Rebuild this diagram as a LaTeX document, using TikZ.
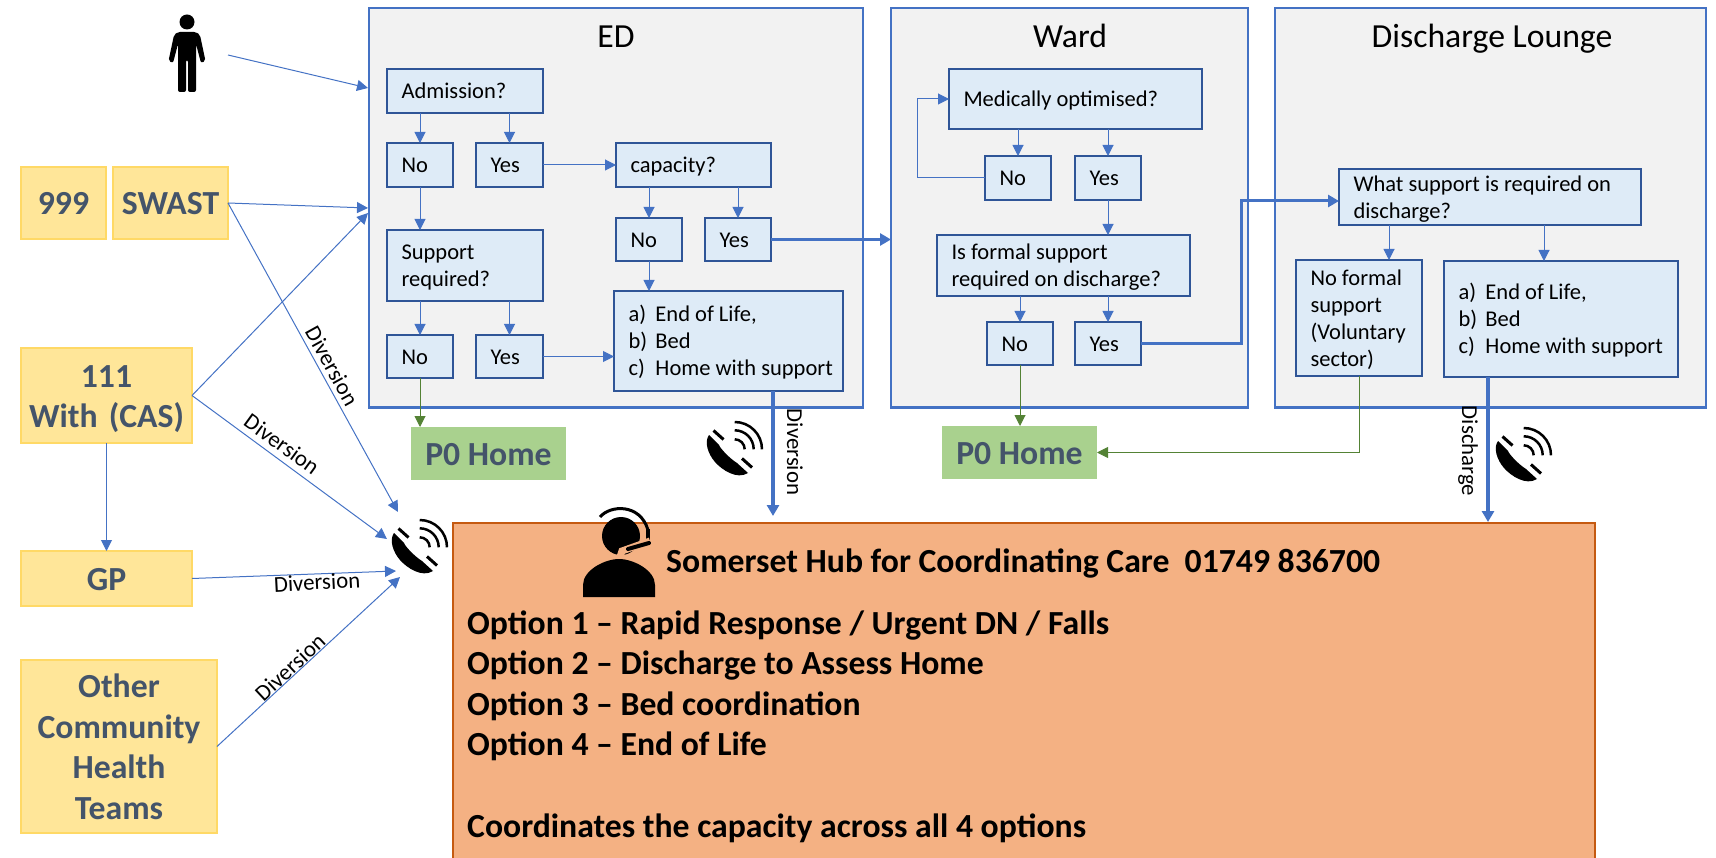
\documentclass[tikz,border=0pt]{standalone}
\usepackage{fontspec}
\setmainfont{Carlito}
\usetikzlibrary{positioning}
\usetikzlibrary{arrows.meta}
\definecolor{flowblue}{HTML}{4472C4}
\definecolor{boxblue}{HTML}{2F5597}
\definecolor{boxfill}{HTML}{DEEBF7}
\definecolor{flowgreen}{HTML}{548235}
\definecolor{homefill}{HTML}{A9D18E}
\definecolor{slate}{HTML}{44546A}
\definecolor{srcfill}{HTML}{FFE699}
\definecolor{srcline}{HTML}{FFD966}
\definecolor{hubfill}{HTML}{F4B183}
\definecolor{hubline}{HTML}{C55A11}
\tikzset{
    panelbox/.style 2 args = {anchor=north west,draw=flowblue,line width=2pt,fill=black!5,minimum width=#1pt,minimum height=#2pt,outer sep=0pt,inner sep=0pt},
    paneltitle/.style = {anchor=base,inner sep=0pt,font=\fontsize{33.7}{40}\selectfont},
    qbox/.style 2 args = {anchor=north west,draw=boxblue,line width=1.6pt,fill=boxfill,minimum width=#1pt,minimum height=#2pt,text width=#1pt-29pt,inner xsep=14.5pt,inner ysep=0pt,outer sep=0pt,align=flush left,font=\fontsize{22.5}{27}\selectfont,execute at begin node={\rule{0pt}{22pt}},execute at end node={\rule[-6pt]{0pt}{6pt}}},
    srcbox/.style 2 args = {anchor=north west,draw=srcline,line width=1.5pt,fill=srcfill,minimum width=#1pt,minimum height=#2pt,text width=#1pt,inner sep=0pt,outer sep=0pt,align=center,text=slate,font=\fontsize{33.7}{40.5}\selectfont\bfseries,execute at begin node={\rule{0pt}{33pt}},execute at end node={\rule[-9pt]{0pt}{9pt}}},
    homebox/.style = {anchor=north west,fill=homefill,minimum width=155pt,minimum height=53pt,inner sep=0pt,outer sep=0pt,text=slate,font=\fontsize{33.7}{40}\selectfont\bfseries,execute at begin node={\rule{0pt}{33pt}},execute at end node={\rule[-9pt]{0pt}{9pt}}},
    hubbox/.style = {anchor=north west,draw=hubline,line width=2pt,fill=hubfill,inner sep=0pt,outer sep=0pt},
    hubtext/.style = {anchor=base west,inner sep=0pt,align=left,font=\fontsize{33.7}{40.6}\selectfont\bfseries},
    divlabel/.style = {inner sep=0pt,font=\fontsize{22.8}{26}\selectfont},
    flow/.style = {-{Triangle[length=11pt,width=11pt]},line width=1pt,flowblue},
    flowb/.style = {-{Triangle[length=11pt,width=12pt]},line width=3pt,flowblue},
    flowc/.style = {-{Triangle[length=11pt,width=12pt]},line width=4pt,flowblue},
    flowg/.style = {-{Triangle[length=11pt,width=11pt]},line width=1pt,flowgreen},
    phoneicon/.pic = {
        \fill[black] (2,15) -- (12,25) .. controls (13,28) and (22,38) .. (30,43) -- (41,53) .. controls (30,60) and (15,50) .. (8,42) .. controls (1,34) and (-3,22) .. (2,15) -- cycle;
        \draw[black,line width=3pt] (6.5,10.5) -- (16.5,19.5);
        \draw[black,line width=3pt] (35,38.5) -- (45,47.5);
        \foreach \r in {27.3,19,10}
            \draw[black,line width=2.5pt] (27.7,29.3-\r) to[out=0,in=90] (27.7+\r,29.3);
    }
}

\begin{document}
\begin{tikzpicture}[x=1pt,y=-1pt]
  \path[use as bounding box,clip] (0,0) rectangle (1716,858);

  % panels
  \node (edpanel) at (368.5,8.5) [panelbox={494.5}{399}] {};
  \node (wardpanel) at (891,8.5) [panelbox={357}{399}] {};
  \node (dischpanel) at (1275,8.5) [panelbox={431}{399}] {};
  \node (edtitle) at (616,48) [paneltitle] {ED};
  \node (wardtitle) at (1070,48) [paneltitle] {Ward};
  \node (dischtitle) at (1492,48) [paneltitle] {Discharge Lounge};

  % hub
  \node (hub) at (453,523) [hubbox,minimum width=1142pt,minimum height=360pt] {};
  \node (hubname) at (666,572) [hubtext] {Somerset Hub for Coordinating Care\ \ 01749 836700};
  \node (huboptions) at (467,837) [hubtext] {Option 1 -- Rapid Response / Urgent DN / Falls\\
    Option 2 -- Discharge to Assess Home\\
    Option 3 -- Bed coordination\\
    Option 4 -- End of Life\\[40.6pt]
    Coordinates the capacity across all 4 options};

  % sources
  \node (nine) at (21,167) [srcbox={85}{72}] {999};
  \node (swast) at (113,167) [srcbox={115}{72}] {SWAST};
  \node (oneoneone) at (21,348) [srcbox={171}{95}] {111\\With (CAS)};
  \node (gp) at (21,551) [srcbox={171}{55}] {GP};
  \node (other) at (21,660) [srcbox={196}{173}] {Other\\Community\\Health\\Teams};

  % ED
  \node (adm) at (387,69) [qbox={156}{44}] {Admission?};
  \node (edno) at (387,143) [qbox={66}{44}] {No};
  \node (edyes) at (476,143) [qbox={67}{44}] {Yes};
  \node (suppreq) at (387,230) [qbox={156}{71}] {Support\\required?};
  \node (suppno) at (387,335) [qbox={66}{43}] {No};
  \node (suppyes) at (476,335) [qbox={67}{43}] {Yes};
  \node (capac) at (616,143) [qbox={155}{44}] {capacity?};
  \node (capno) at (616,218) [qbox={66}{43}] {No};
  \node (capyes) at (705,218) [qbox={66}{43}] {Yes};
  \node (edopts) at (614,291) [qbox={229}{100}] {\makebox[27pt][l]{a)}End of Life,\\\makebox[27pt][l]{b)}Bed\\\mbox{\makebox[27pt][l]{c)}Home with support}};
  \node (homea) at (411,427) [homebox] {P0 Home};

  % Ward
  \node (medopt) at (949,69) [qbox={253}{60}] {Medically optimised?};
  \node (medno) at (985,156) [qbox={66}{44}] {No};
  \node (medyes) at (1075,156) [qbox={66}{44}] {Yes};
  \node (formal) at (937,235) [qbox={253}{61}] {Is formal support\\required on discharge?};
  \node (formno) at (987,322) [qbox={66}{43}] {No};
  \node (formyes) at (1075,322) [qbox={66}{43}] {Yes};
  \node (homeb) at (942,426) [homebox] {P0 Home};

  % Discharge Lounge
  \node (whatsupp) at (1339,169) [qbox={302}{56}] {What support is required on\\discharge?};
  \node (nosupp) at (1296,260) [qbox={126}{116}] {No formal\\support\\(Voluntary\\sector)};
  \node (dischopts) at (1444,261) [qbox={234}{116}] {\makebox[27pt][l]{a)}End of Life,\\\makebox[27pt][l]{b)}Bed\\\mbox{\makebox[27pt][l]{c)}Home with support}};

  % free ends
  \coordinate (person) at (228,55);
  \coordinate (edinA) at (368,88);
  \coordinate (edinB) at (368,208);
  \coordinate (edinC) at (368,213);
  \coordinate (phoneA) at (398,512);
  \coordinate (phoneB) at (387,539);
  \coordinate (phoneC) at (396,571);
  \coordinate (phoneD) at (400,577);

  % into ED and to the phone
  \draw[flow] (person) -- (edinA);
  \draw[flow] (swast.east) -- (edinB);
  \draw[flow] (oneoneone.east) -- (edinC);
  \draw[flow] (swast.east) -- (phoneA);
  \draw[flow] (oneoneone.east) -- (phoneB);
  \draw[flow] (gp.east) -- (phoneC);
  \draw[flow] (other.east) -- (phoneD);
  \draw[flow] (oneoneone.south) -- (gp.north);

  \draw[flow] (edno |- adm.south) -- (edno.north);
  \draw[flow] (edyes |- adm.south) -- (edyes.north);
  \draw[flow] (edno.south) -- (edno |- suppreq.north);
  \draw[flow] (suppno |- suppreq.south) -- (suppno.north);
  \draw[flow] (suppyes |- suppreq.south) -- (suppyes.north);
  \draw[flow] (edyes.east) -- (capac.west);
  \draw[flow] (capno |- capac.south) -- (capno.north);
  \draw[flow] (capyes |- capac.south) -- (capyes.north);
  \draw[flow] (capno.south) -- (capno |- edopts.north);
  \draw[flow] (suppyes.east) -- (suppyes.east -| edopts.west);
  \draw[flowg] (suppno.south) -- (suppno |- homea.north);

  \draw[flow] (medno |- medopt.south) -- (medno.north);
  \draw[flow] (medyes |- medopt.south) -- (medyes.north);
  \draw[flow] (medno.west) -- ++(-68,0) |- (medopt.west);
  \draw[flow] (medyes.south) -- (medyes |- formal.north);
  \draw[flow] (formno |- formal.south) -- (formno.north);
  \draw[flow] (formyes |- formal.south) -- (formyes.north);
  \draw[flowg] (formno.south) -- (formno |- homeb.north);

  \draw[flow] ([xshift=30pt]nosupp.north |- whatsupp.south) -- ([xshift=30pt]nosupp.north);
  \draw[flow] ([xshift=-17pt]dischopts.north |- whatsupp.south) -- ([xshift=-17pt]dischopts.north);
  \draw[flowg] (nosupp.south) |- (homeb.east);

  \draw[flowb] (capyes.east) -- (wardpanel.west |- capyes.east);
  \draw[flowb] (formyes.east) -- ++(100,0) |- ([yshift=-4pt]whatsupp.west);
  \draw[flowc,shorten >=7pt] ([xshift=44.5pt]edopts.south) -- ([xshift=44.5pt]edopts.south |- hub.north);
  \draw[flowc,shorten >=1pt] ([xshift=-73pt]dischopts.south) -- ([xshift=-73pt]dischopts.south |- hub.north);

  % labels
  \node (divswast) at (332,366) [divlabel,rotate=-61] {Diversion};
  \node (divone) at (282,444) [divlabel,rotate=-36] {Diversion};
  \node (divgp) at (317,582) [divlabel,rotate=3] {Diversion};
  \node (divother) at (290,667) [divlabel,rotate=43] {Diversion};
  \node (dived) at (795,452) [divlabel,rotate=-90] {Diversion};
  \node (divdisch) at (1468,451) [divlabel,rotate=-90] {Discharge};

  % icons
  \pic at (392,518) {phoneicon};
  \pic at (707,420) {phoneicon};
  \pic at (1496,426) {phoneicon};

  % person
  \fill[black] (187,22) circle (7.5);
  \fill[black,rounded corners=2pt] (178,32) -- (196,32) -- (200,35) -- (205.5,61) -- (201,63) -- (196,44) -- (196,92) -- (188,92) -- (188,60) -- (186,60) -- (186,92) -- (178,92) -- (178,44) -- (173,63) -- (168.5,61) -- (174,35) -- cycle;

  % agent
  \fill[black] (621,536) circle (19);
  \draw[black,line width=3pt] (600,517) .. controls (610,505) and (640,503) .. (648,530);
  \fill[black] (646,529) rectangle (650,544);
  \draw[hubfill,line width=7pt] (650,541) -- (622,551) -- (619,560);
  \draw[black,line width=4pt,line cap=round] (649,543) -- (628,549);
  \fill[black] (583,597) -- (583,585) .. controls (583,570) and (605,559) .. (619,559) .. controls (633,559) and (655,570) .. (655,585) -- (655,597) -- cycle;
\end{tikzpicture}
\end{document}
